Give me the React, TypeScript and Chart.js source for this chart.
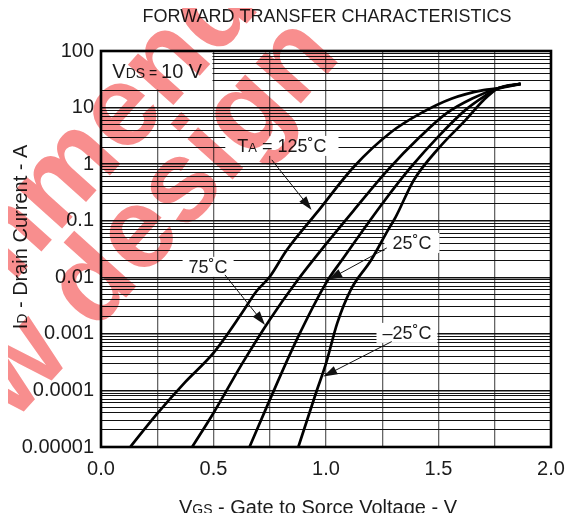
import { useEffect, useRef } from "react";
import { Chart, registerables } from "chart.js";

Chart.register(...registerables);

// ---------- data ----------
const vgs125 = [0.13, 0.245, 0.37, 0.5, 0.63, 0.69, 0.75, 0.825, 0.96, 1.125, 1.29, 1.42, 1.56, 1.7, 1.765, 1.865];
const id125 = [1e-5, 3.7e-5, 1.35e-4, 4.6e-4, 2.45e-3, 5.6e-3, 0.0102, 0.03, 0.14, 0.91, 3.7, 7.9, 14.5, 20.4, 21.9, 26.3];

const vgs75 = [0.405, 0.5, 0.63, 0.75, 0.87, 0.965, 1.125, 1.275, 1.42, 1.535, 1.65, 1.765, 1.865];
const id75 = [1e-5, 4.0e-5, 3.1e-4, 1.78e-3, 8.5e-3, 0.026, 0.155, 0.79, 3.1, 7.9, 14.5, 21.9, 26.3];

const vgs25 = [0.66, 0.75, 0.87, 1.0, 1.07, 1.25, 1.38, 1.5, 1.62, 1.7, 1.765, 1.865];
const id25 = [1e-5, 6.8e-5, 7.9e-4, 7.9e-3, 0.02, 0.2, 0.91, 3.1, 9.1, 15.5, 21.9, 26.3];

const vgsM25 = [0.877, 0.955, 1.0, 1.05, 1.11, 1.2, 1.276, 1.31, 1.39, 1.505, 1.62, 1.7, 1.765, 1.865];
const idM25 = [1e-5, 8.9e-5, 3.0e-4, 1.55e-3, 6.0e-3, 0.02, 0.069, 0.117, 0.52, 2.0, 6.0, 13.5, 21.9, 26.3];

const seriesNames = ["125˚C", "75˚C", "25˚C", "–25˚C"];

const xTickValues = [0, 0.25, 0.5, 0.75, 1, 1.25, 1.5, 1.75, 2];
const xTickLabels = ["0.0", "", "0.5", "", "1.0", "", "1.5", "", "2.0"];

const yDecades = [100, 10, 1, 0.1, 0.01, 0.001, 0.0001, 0.00001];
const yTickLabels = ["100", "10", "1", "0.1", "0.01", "0.001", "0.0001", "0.00001"];
const yMinorFactors = [2, 3, 4, 5, 6, 7, 8, 9];

const titleText = "FORWARD TRANSFER CHARACTERISTICS";
const watermarkLines = ["Not recommended", "for new design"];

// annotation labels (text parts: [text, fontSize]) anchored in data units
const annotations = [
  { parts: [["T", 18], ["A", 13], [" = 125˚C", 18]] as [string, number][], at: [0.804, 2.1], from: [0.759, 1.19], to: [0.936, 0.155], pad: 12 },
  { parts: [["75˚C", 18]] as [string, number][], at: [0.476, 0.0153], from: [0.551, 0.011], to: [0.729, 0.00144], pad: 6 },
  { parts: [["25˚C", 18]] as [string, number][], at: [1.382, 0.0405], from: [1.27, 0.033], to: [1.01, 0.009], pad: 8 },
  { parts: [["–25˚C", 18]] as [string, number][], at: [1.36, 0.00104], from: [1.292, 7.3e-4], to: [0.988, 1.76e-4], pad: 6 },
];
const vdsParts: [string, number][] = [["V", 20], ["DS", 14], [" = ", 14], ["10 V", 20]];
const yTitleParts: [string, number][] = [["I", 20], ["D", 14], [" - Drain Current - A", 20]];
const xTitleParts: [string, number][] = [["V", 20], ["GS", 14], [" - Gate to Sorce Voltage - V", 20]];

const FAMILY = "'Liberation Sans', Arial, Helvetica, sans-serif";
const TEXT = "#1c1c1c";

function zip(xs: number[], ys: number[]) {
  return xs.map((x, i) => ({ x, y: ys[i] }));
}

function isDecade(v: number) {
  const l = Math.log10(v);
  return Math.abs(l - Math.round(l)) < 1e-6;
}

function partsWidth(ctx: CanvasRenderingContext2D, parts: [string, number][]) {
  let w = 0;
  for (const [t, s] of parts) {
    ctx.font = `${s}px ${FAMILY}`;
    w += ctx.measureText(t).width;
  }
  return w;
}

function drawParts(ctx: CanvasRenderingContext2D, parts: [string, number][], cx: number, baseline: number) {
  const w = partsWidth(ctx, parts);
  let x = cx - w / 2;
  ctx.textAlign = "left";
  ctx.textBaseline = "alphabetic";
  ctx.fillStyle = TEXT;
  for (const [t, s] of parts) {
    ctx.font = `${s}px ${FAMILY}`;
    ctx.fillText(t, x, baseline);
    x += ctx.measureText(t).width;
  }
  return w;
}

function drawArrow(ctx: CanvasRenderingContext2D, x1: number, y1: number, x2: number, y2: number) {
  const a = Math.atan2(y2 - y1, x2 - x1);
  const len = 14;
  const half = 4.5;
  ctx.strokeStyle = "#111";
  ctx.lineWidth = 1;
  ctx.beginPath();
  ctx.moveTo(x1, y1);
  ctx.lineTo(x2 - Math.cos(a) * len * 0.8, y2 - Math.sin(a) * len * 0.8);
  ctx.stroke();
  ctx.fillStyle = "#111";
  ctx.beginPath();
  ctx.moveTo(x2, y2);
  ctx.lineTo(x2 - Math.cos(a) * len - Math.sin(a) * half, y2 - Math.sin(a) * len + Math.cos(a) * half);
  ctx.lineTo(x2 - Math.cos(a) * len + Math.sin(a) * half, y2 - Math.sin(a) * len - Math.cos(a) * half);
  ctx.closePath();
  ctx.fill();
}

const decorPlugin = {
  id: "decor",
  beforeDatasetsDraw(chart: any) {
    const ctx: CanvasRenderingContext2D = chart.ctx;
    const xs = chart.scales.x;
    const ys = chart.scales.y;
    ctx.save();
    ctx.fillStyle = "#fff";
    // VDS cell
    const bx0 = xs.getPixelForValue(0) + 1;
    const bx1 = xs.getPixelForValue(0.5) - 1;
    const by0 = ys.getPixelForValue(100) + 1;
    const by1 = ys.getPixelForValue(20) - 1;
    ctx.fillRect(bx0, by0, bx1 - bx0, by1 - by0);
    // label boxes
    for (const an of annotations) {
      const w = partsWidth(ctx, an.parts);
      const cx = xs.getPixelForValue(an.at[0]);
      const cy = ys.getPixelForValue(an.at[1]);
      ctx.fillStyle = "#fff";
      ctx.fillRect(cx - w / 2 - an.pad, cy - 10, w + 2 * an.pad, 20);
    }
    ctx.restore();
  },
  afterDatasetsDraw(chart: any) {
    const ctx: CanvasRenderingContext2D = chart.ctx;
    const xs = chart.scales.x;
    const ys = chart.scales.y;
    const ca = chart.chartArea;
    ctx.save();
    // border
    ctx.strokeStyle = "#000";
    ctx.lineWidth = 2.6;
    ctx.strokeRect(ca.left, ca.top, ca.right - ca.left, ca.bottom - ca.top);
    // annotations
    for (const an of annotations) {
      const cx = xs.getPixelForValue(an.at[0]);
      const cy = ys.getPixelForValue(an.at[1]);
      drawParts(ctx, an.parts, cx, cy + 6.5);
      drawArrow(
        ctx,
        xs.getPixelForValue(an.from[0]),
        ys.getPixelForValue(an.from[1]),
        xs.getPixelForValue(an.to[0]),
        ys.getPixelForValue(an.to[1])
      );
    }
    // VDS text
    const vcx = (xs.getPixelForValue(0) + xs.getPixelForValue(0.5)) / 2;
    const vcy = (ys.getPixelForValue(100) + ys.getPixelForValue(20)) / 2;
    drawParts(ctx, vdsParts, vcx, vcy + 7.5);
    // title
    ctx.font = `18px ${FAMILY}`;
    ctx.fillStyle = TEXT;
    ctx.textAlign = "center";
    ctx.textBaseline = "alphabetic";
    ctx.fillText(titleText, 319, 14);
    // x title
    drawParts(ctx, xTitleParts, 310, 506);
    // y title
    ctx.save();
    ctx.translate(19, 229);
    ctx.rotate(-Math.PI / 2);
    drawParts(ctx, yTitleParts, 0, 0);
    ctx.restore();
    ctx.restore();
  },
  afterDraw(chart: any) {
    const ctx: CanvasRenderingContext2D = chart.ctx;
    ctx.save();
    ctx.globalCompositeOperation = "multiply";
    ctx.fillStyle = "rgb(248,142,142)";
    ctx.translate(-8, -8);
    ctx.rotate((-48 * Math.PI) / 180);
    ctx.font = `bold 115px ${FAMILY}`;
    ctx.textAlign = "left";
    ctx.textBaseline = "alphabetic";
    const w1 = ctx.measureText("Not recomm").width;
    ctx.fillText(watermarkLines[0], -34 - w1, 199);
    const w2 = ctx.measureText("for new ").width;
    ctx.fillText(watermarkLines[1], -184 - w2, 293);
    ctx.restore();
  },
};

export default function App() {
  const ref = useRef<HTMLCanvasElement>(null);
  useEffect(() => {
    const series = [zip(vgs125, id125), zip(vgs75, id75), zip(vgs25, id25), zip(vgsM25, idM25)];
    const chart = new Chart(ref.current!, {
      type: "scatter",
      data: {
        datasets: series.map((d, i) => ({
          label: seriesNames[i],
          data: d,
          showLine: true,
          borderColor: "#000",
          backgroundColor: "#000",
          borderWidth: 2.7,
          pointRadius: 0,
          cubicInterpolationMode: "monotone" as const,
        })),
      },
      options: {
        animation: false,
        responsive: true,
        maintainAspectRatio: false,
        devicePixelRatio: 1,
        layout: { padding: { left: 0, right: 17, top: 43, bottom: 0 } },
        plugins: { legend: { display: false }, tooltip: { enabled: false }, title: { display: false } },
        scales: {
          x: {
            type: "linear",
            min: 0,
            max: 2,
            afterBuildTicks: (s: any) => {
              s.ticks = xTickValues.map((v) => ({ value: v }));
            },
            afterFit: (s: any) => {
              s.height = 74;
              s.paddingLeft = 0;
              s.paddingRight = 0;
            },
            ticks: {
              autoSkip: false,
              maxRotation: 0,
              padding: 10,
              color: TEXT,
              font: { family: FAMILY, size: 20 },
              callback: (v: any) => {
                const i = xTickValues.findIndex((t) => Math.abs(t - Number(v)) < 1e-9);
                return i >= 0 ? xTickLabels[i] : "";
              },
            },
            grid: { drawTicks: false, color: "#666", lineWidth: 1.3 },
            border: { display: false },
          },
          y: {
            type: "logarithmic",
            min: 1e-5,
            max: 100,
            afterBuildTicks: (s: any) => {
              const t: { value: number }[] = [];
              for (const d of yDecades) {
                t.push({ value: d });
                if (d < 100) for (const f of yMinorFactors) t.push({ value: d * f });
              }
              t.sort((a, b) => a.value - b.value);
              s.ticks = t;
            },
            afterFit: (s: any) => {
              s.width = 93;
              s.paddingTop = 0;
              s.paddingBottom = 0;
            },
            ticks: {
              autoSkip: false,
              padding: 7,
              color: TEXT,
              font: { family: FAMILY, size: 20 },
              callback: (v: any) => {
                const n = Number(v);
                if (!isDecade(n)) return "";
                const i = yDecades.findIndex((d) => Math.abs(Math.log10(d) - Math.log10(n)) < 1e-6);
                return i >= 0 ? yTickLabels[i] : "";
              },
            },
            grid: {
              drawTicks: false,
              color: "#111",
              lineWidth: (c: any) => (c.tick && isDecade(c.tick.value) ? 1.5 : 1),
            },
            border: { display: false },
          },
        },
      },
      plugins: [decorPlugin],
    });
    return () => chart.destroy();
  }, []);
  return (
    <div style={{ width: 560, height: 513, position: "relative", marginBottom: -8 }}>
      <canvas ref={ref} />
    </div>
  );
}
